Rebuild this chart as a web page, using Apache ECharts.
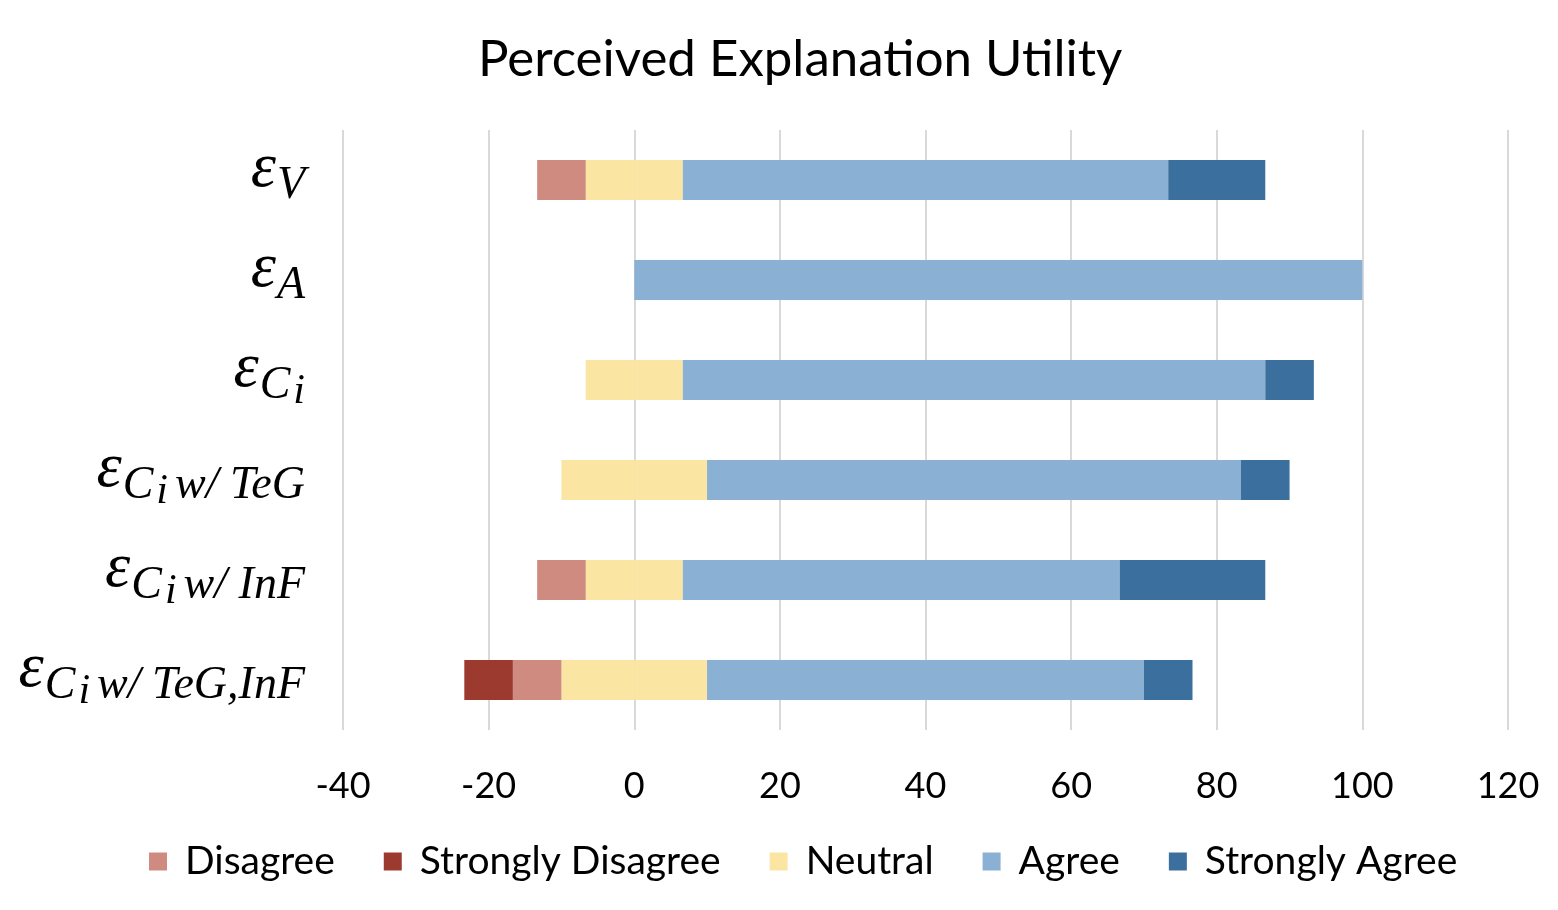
<!DOCTYPE html>
<html>
<head>
<meta charset="utf-8">
<script src="https://cdn.jsdelivr.net/npm/echarts@6/dist/echarts.min.js"></script>
<style>
html,body{margin:0;padding:0;background:#fff;}
#chart{width:1558px;height:910px;}
</style>
</head>
<body>
<div id="chart"></div>
<script>
// Category keys (subscript parts of the explanation labels), top to bottom
const categories = ['V', 'A', 'C_i', 'C_i w/ TeG', 'C_i w/ InF', 'C_i w/ TeG,InF'];
// Percentages per response level
const stronglyDisagree = [0, 0, 0, 0, 0, 6.67];
const disagree         = [6.67, 0, 0, 0, 6.67, 6.67];
const neutral          = [13.33, 0, 13.33, 20, 13.33, 20];
const agree            = [66.67, 100, 80, 73.33, 60, 60];
const stronglyAgree    = [13.33, 0, 6.67, 6.67, 20, 6.67];
const xTicks = { min: -40, max: 120, interval: 20 };

const colors = {
  disagree: '#D08B81',
  stronglyDisagree: '#9C3A2F',
  neutral: '#FBE5A2',
  agree: '#8AB1D3',
  stronglyAgree: '#3B6F9E'
};

function fmt(cat) {
  const parts = cat.split('_');
  if (parts.length === 1) return '{e|ε}{s|' + cat + '}';
  const rest = parts[1];
  const sub = rest[0];
  const tail = rest.slice(1).trim();
  return '{e|ε}{s|' + parts[0] + '}{ss|' + sub + '}' + (tail ? '{t|' + tail + '}' : '');
}

const chart = echarts.init(document.getElementById('chart'));
const mathFont = '"Liberation Serif", serif';
const uiFont = 'Lato, "Open Sans", sans-serif';

const barCommon = { type: 'bar', stack: 'total', barWidth: '40%' };

chart.setOption({
  animation: false,
  title: {
    text: 'Perceived Explanation Utility',
    left: 473,
    top: 29,
    textStyle: { fontFamily: uiFont, fontSize: 51, fontWeight: 'normal', color: '#000' }
  },
  legend: {
    data: ['Disagree', 'Strongly Disagree', 'Neutral', 'Agree', 'Strongly Agree'],
    bottom: 24,
    left: 144,
    icon: 'rect',
    itemWidth: 18,
    itemHeight: 18,
    itemGap: 49,
    textStyle: { fontFamily: uiFont, fontSize: 39, color: '#000', padding: [0, 0, 0, 13] }
  },
  grid: { left: 343, right: 50, top: 130, bottom: 180, containLabel: false },
  xAxis: {
    type: 'value',
    min: xTicks.min,
    max: xTicks.max,
    interval: xTicks.interval,
    axisLine: { show: false },
    axisTick: { show: false },
    splitLine: { show: true, lineStyle: { color: '#D9D9D9', width: 2 } },
    axisLabel: { fontFamily: uiFont, fontSize: 36, color: '#000', margin: 38 }
  },
  yAxis: {
    type: 'category',
    inverse: true,
    data: categories,
    axisLine: { show: false },
    axisTick: { show: false },
    splitLine: { show: false },
    axisLabel: {
      margin: 38,
      formatter: fmt,
      rich: {
        e:  { fontFamily: mathFont, fontStyle: 'italic', fontSize: 64, color: '#000', verticalAlign: 'top', padding: [2, 1, 24, 0] },
        s:  { fontFamily: mathFont, fontStyle: 'italic', fontSize: 46, color: '#000', verticalAlign: 'top', padding: [28, 0, 0, 0] },
        ss: { fontFamily: mathFont, fontStyle: 'italic', fontSize: 42, color: '#000', verticalAlign: 'top', padding: [36, 0, 0, 3] },
        t:  { fontFamily: mathFont, fontStyle: 'italic', fontSize: 46, color: '#000', verticalAlign: 'top', padding: [28, 0, 0, 7] }
      }
    }
  },
  series: [
    Object.assign({}, barCommon, { name: 'Neutral', data: neutral.map(v => -v / 2), itemStyle: { color: colors.neutral } }),
    Object.assign({}, barCommon, { name: 'Disagree', data: disagree.map(v => -v), itemStyle: { color: colors.disagree } }),
    Object.assign({}, barCommon, { name: 'Strongly Disagree', data: stronglyDisagree.map(v => -v), itemStyle: { color: colors.stronglyDisagree } }),
    Object.assign({}, barCommon, { name: 'Neutral', data: neutral.map(v => v / 2), itemStyle: { color: colors.neutral } }),
    Object.assign({}, barCommon, { name: 'Agree', data: agree, itemStyle: { color: colors.agree } }),
    Object.assign({}, barCommon, { name: 'Strongly Agree', data: stronglyAgree, itemStyle: { color: colors.stronglyAgree } })
  ]
});
</script>
</body>
</html>
